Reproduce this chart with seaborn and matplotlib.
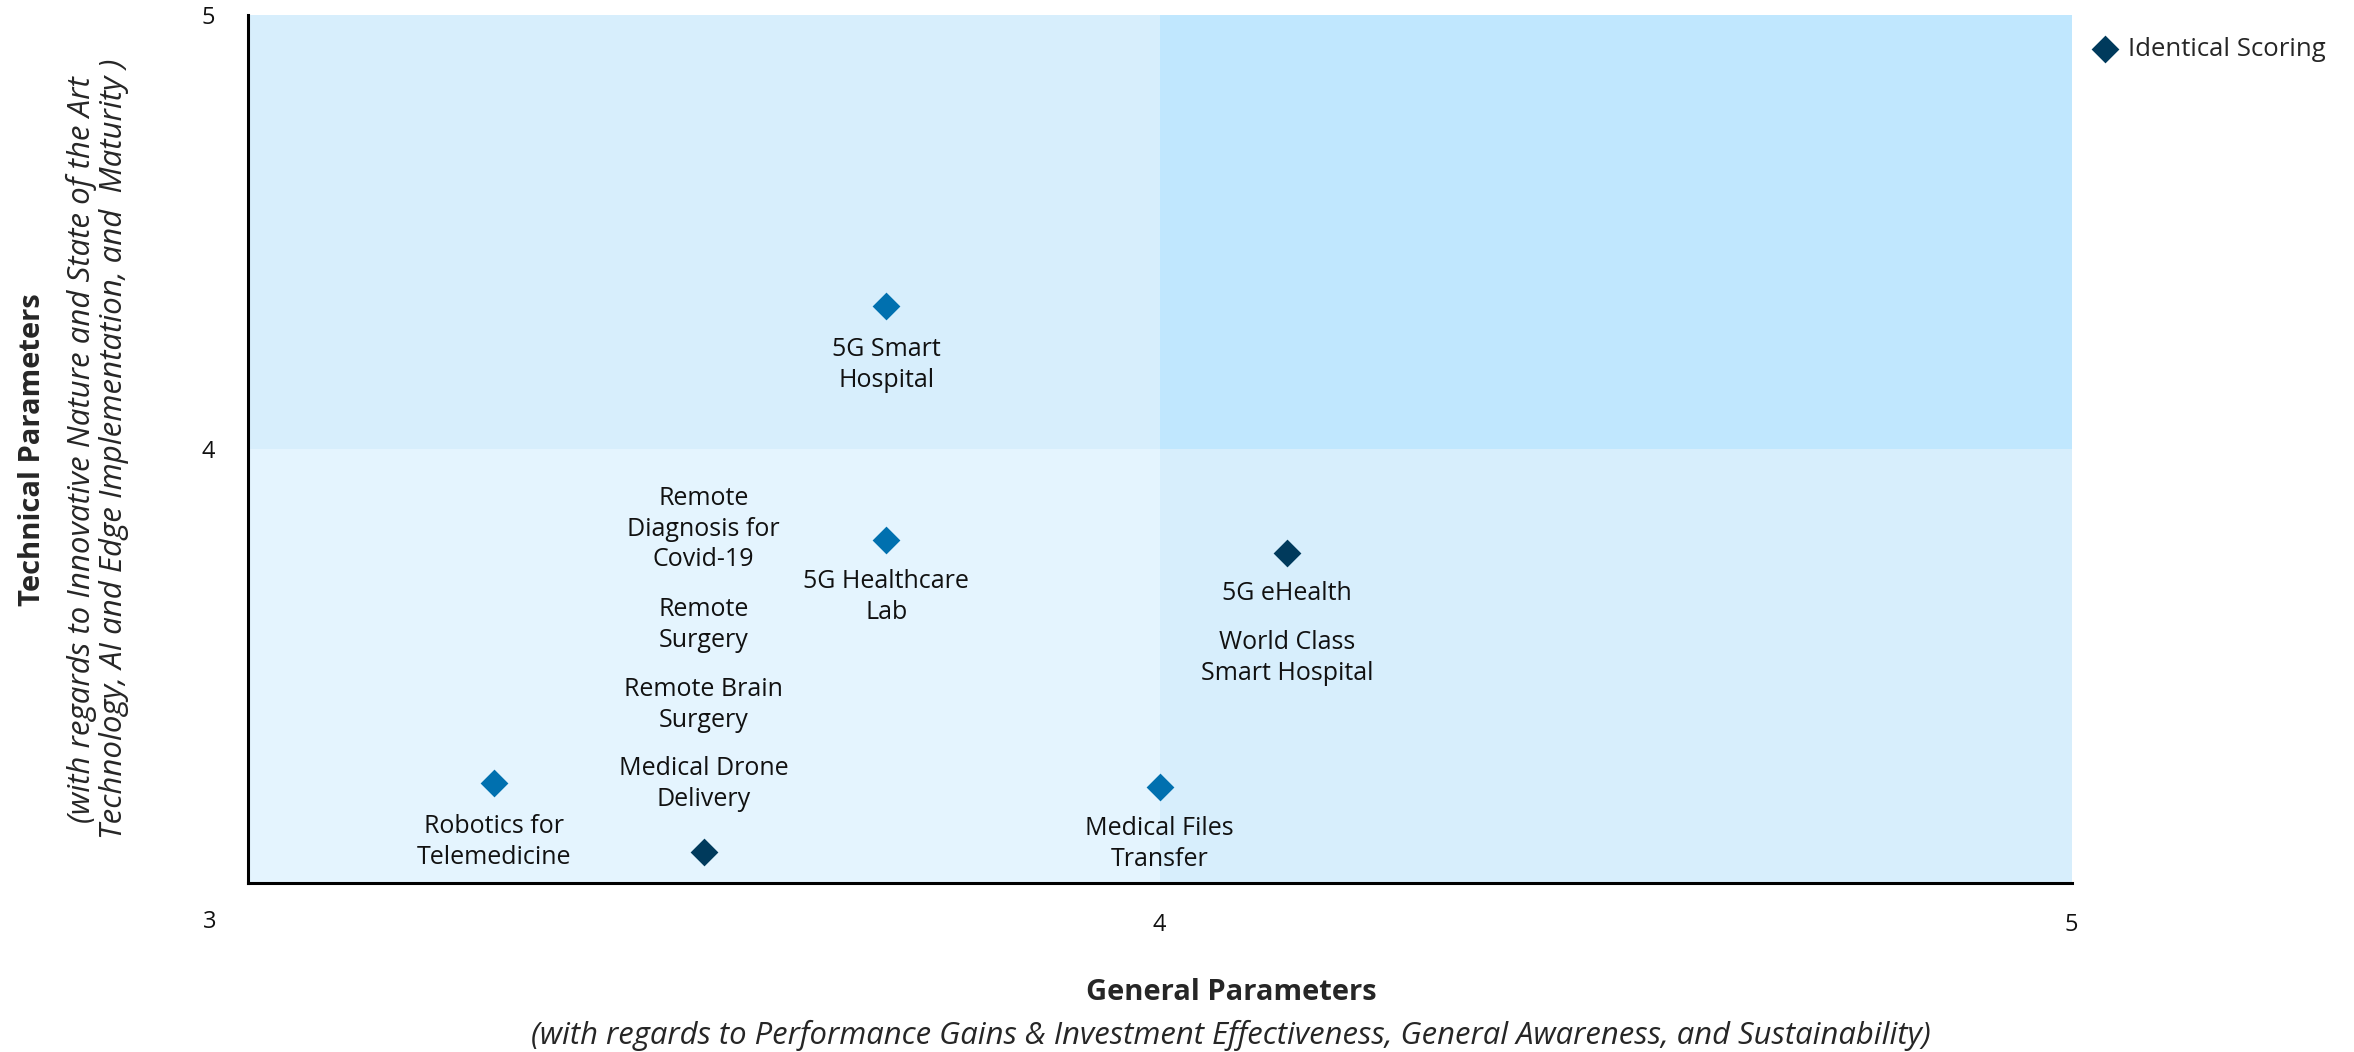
import matplotlib
matplotlib.use("Agg")
import matplotlib.pyplot as plt
import pandas as pd
import seaborn as sb

# Project scores
projects = ["5G Smart\nHospital", "5G Healthcare\nLab", "5G eHealth",
            "World Class\nSmart Hospital", "Robotics for\nTelemedicine",
            "Medical Files\nTransfer", "Medical Drone\nDelivery",
            "Remote Brain\nSurgery", "Remote\nSurgery",
            "Remote\nDiagnosis for\nCovid-19"]
general = [3.70, 3.70, 4.14, 4.14, 3.27, 4.00, 3.50, 3.50, 3.50, 3.50]
technical = [4.33, 3.79, 3.76, 3.76, 3.23, 3.22, 3.07, 3.07, 3.07, 3.07]

# label offsets (pixels) from each point
label_dy = [-59, -57, -41, -105, -59, -57, 68, 147, 227, 323]

ticks = [3, 4, 5]
split = 4

df = pd.DataFrame({"Project": projects, "General": general, "Technical": technical})
df["Identical"] = df.duplicated(["General", "Technical"], keep=False)

sb.set_style("white")
plt.rcParams['font.family'] = ['Open Sans', 'DejaVu Sans']

fig = plt.figure(figsize=(23.54, 10.52), dpi=100)
ax = fig.add_axes([0.1053, 0.161, 0.7747, 0.8247])

# quadrant background
lo, hi = ticks[0], ticks[-1]
ax.fill_between([lo, split], lo, split, color="#E4F4FE", lw=0, zorder=0)
ax.fill_between([split, hi], lo, split, color="#D7EEFC", lw=0, zorder=0)
ax.fill_between([lo, split], split, hi, color="#D7EEFC", lw=0, zorder=0)
ax.fill_between([split, hi], split, hi, color="#C0E7FE", lw=0, zorder=0)

single = df[~df["Identical"]]
same = df[df["Identical"]].drop_duplicates(["General", "Technical"])
sb.scatterplot(data=single, x="General", y="Technical", marker="D", s=200,
               color="#0070AF", linewidth=0, ax=ax, zorder=3)
sb.scatterplot(data=same, x="General", y="Technical", marker="D", s=200,
               color="#003A5C", linewidth=0, ax=ax, zorder=3,
               label="Identical Scoring")

for (i, row), dy in zip(df.iterrows(), label_dy):
    ax.annotate(row["Project"], (row["General"], row["Technical"]),
                xytext=(0, dy), textcoords="offset pixels",
                ha="center", va="center", fontsize=18, color="#111111",
                linespacing=1.3)

ax.set_xlim(lo, hi)
ax.set_ylim(lo, hi)
ax.set_xticks(ticks)
ax.set_yticks(ticks)
ax.set_xticklabels([""] + [str(t) for t in ticks[1:]])
ax.set_yticklabels([""] + [str(t) for t in ticks[1:]])
ax.tick_params(length=0, labelsize=17, colors="#111111")
ax.tick_params(axis="x", pad=22)
ax.tick_params(axis="y", pad=24)
ax.annotate(str(ticks[0]), (0, 0), xycoords="axes fraction", xytext=(-38, -39),
            textcoords="offset pixels", ha="center", va="center", fontsize=17,
            color="#111111")

for s in ["top", "right"]:
    ax.spines[s].set_visible(False)
for s in ["left", "bottom"]:
    ax.spines[s].set_color("black")
    ax.spines[s].set_linewidth(2.2)
ax.set_xlabel("")
ax.set_ylabel("")

fig.text(0.523, 0.057, "General Parameters", ha="center", va="center",
         fontsize=21, fontweight="bold")
fig.text(0.523, 0.016, "(with regards to Performance Gains & Investment Effectiveness, General Awareness, and Sustainability)",
         ha="center", va="center", fontsize=22.3, style="italic")
fig.text(0.014, 0.573, "Technical Parameters", rotation=90, ha="center", va="center",
         fontsize=21, fontweight="bold")
fig.text(0.0415, 0.573, "(with regards to Innovative Nature and State of the Art\nTechnology, AI and Edge Implementation, and  Maturity )",
         rotation=90, ha="center", va="center", fontsize=22.5, style="italic",
         linespacing=1.08)

ax.legend(loc="upper left", bbox_to_anchor=(1.0, 0.993), frameon=False,
          fontsize=18.5, handletextpad=0.2, handlelength=1.4,
          borderaxespad=0.3, borderpad=0.3)

fig.savefig("out.png", dpi=100)
